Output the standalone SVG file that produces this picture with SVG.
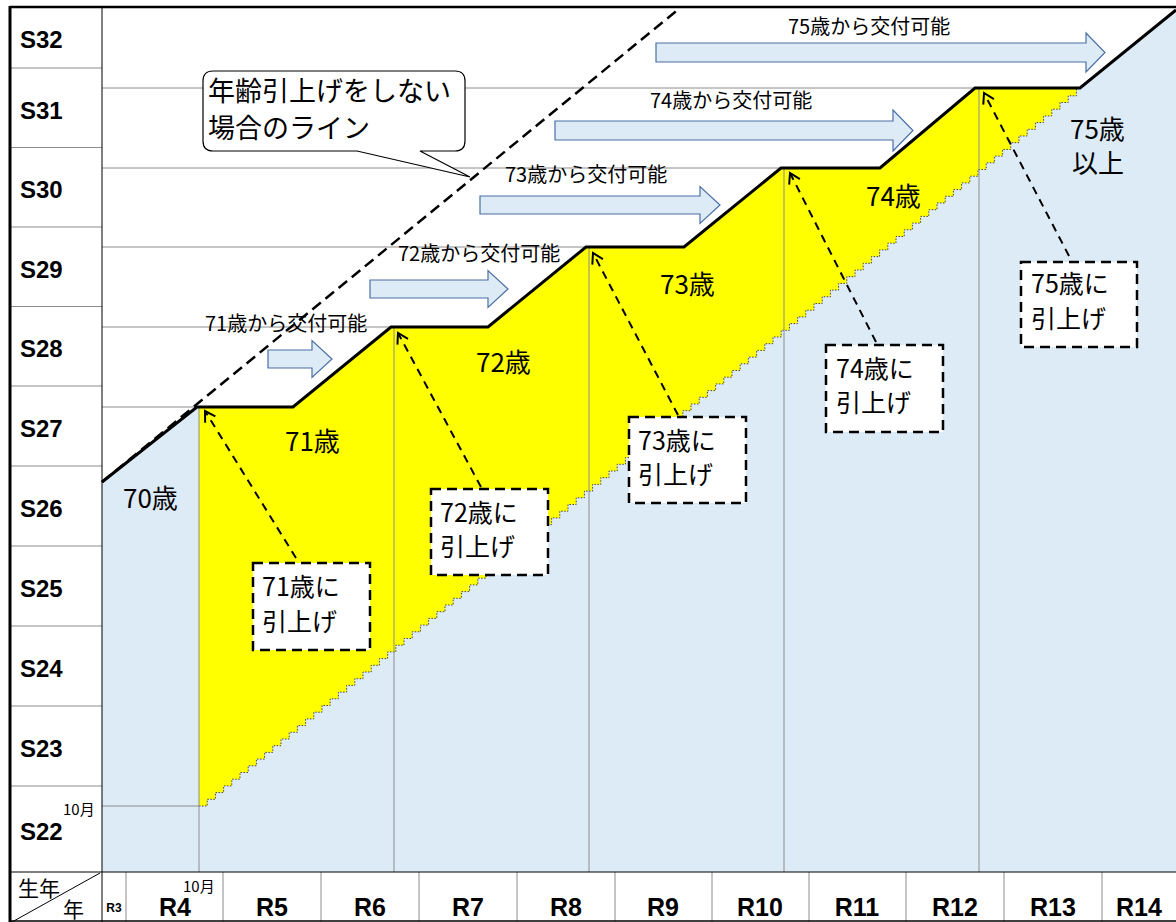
<svg xmlns="http://www.w3.org/2000/svg" width="1176" height="922" viewBox="0 0 1176 922">
<style>
.jp{font-family:"Noto Sans CJK JP","Liberation Sans",sans-serif;fill:#000}
.lab{font-family:"Liberation Sans",Arial,sans-serif;font-weight:bold;fill:#000}
.s{font-size:24px}
.r{font-size:25px}
.grid{stroke:#8c8c8c;stroke-width:1;fill:none}
.barrow{fill:#DDEBF7;stroke:#4A6FA5;stroke-width:1.2}
.dbox{fill:#fff;stroke:#000;stroke-width:2.5;stroke-dasharray:10 6}
.darrow{stroke:#000;stroke-width:2;stroke-dasharray:8 6;fill:none;marker-end:url(#oh)}
.age{font-size:26px}
.box{font-size:25px}
.avail{font-size:20px}
</style>
<defs>
<marker id="oh" markerUnits="userSpaceOnUse" markerWidth="16" markerHeight="16" refX="12" refY="7" orient="auto">
<path d="M2,1 L12,7 L2,13" fill="none" stroke="#000" stroke-width="2" stroke-dasharray="none"/>
</marker>
</defs>
<rect width="1176" height="922" fill="#fff"/>
<g id="chart-bg">
<rect x="102" y="7" width="1074" height="865" fill="#DDEBF7"/>
<path d="M102,7 L102,482 L197,407 L293,407 L391,327 L488,327 L586,247 L684,247 L781,168 L880,168 L975,88 L1080,88 L1176,10 L1176,7 Z" fill="#fff"/>
<path id="yellow" fill="#FFFF00" d="M199,806
h8.2v-6.7h8.2v-6.7h8.2v-6.7h8.2v-6.7h8.2v-6.7h8.2v-6.7h8.2v-6.7h8.2v-6.7h8.2v-6.7h8.2v-6.7
h8.2v-6.7h8.2v-6.7h8.2v-6.7h8.2v-6.7h8.2v-6.7h8.2v-6.7h8.2v-6.7h8.2v-6.7h8.2v-6.7h8.2v-6.7
h8.2v-6.7h8.2v-6.7h8.2v-6.7h8.2v-6.7h8.2v-6.7h8.2v-6.7h8.2v-6.7h8.2v-6.7h8.2v-6.7h8.2v-6.7
h8.2v-6.7h8.2v-6.7h8.2v-6.7h8.2v-6.7h8.2v-6.7h8.2v-6.7h8.2v-6.7h8.2v-6.7h8.2v-6.7h8.2v-6.7
h8.2v-6.7h8.2v-6.7h8.2v-6.7h8.2v-6.7h8.2v-6.7h8.2v-6.7h8.2v-6.7h8.2v-6.7h8.2v-6.7h8.2v-6.7
h8.2v-6.7h8.2v-6.7h8.2v-6.7h8.2v-6.7h8.2v-6.7h8.2v-6.7h8.2v-6.7h8.2v-6.7h8.2v-6.7h8.2v-6.7
h8.2v-6.7h8.2v-6.7h8.2v-6.7h8.2v-6.7h8.2v-6.7h8.2v-6.7h8.2v-6.7h8.2v-6.7h8.2v-6.7h8.2v-6.7
h8.2v-6.7h8.2v-6.7h8.2v-6.7h8.2v-6.7h8.2v-6.7h8.2v-6.7h8.2v-6.7h8.2v-6.7h8.2v-6.7h8.2v-6.7
h8.2v-6.7h8.2v-6.7h8.2v-6.7h8.2v-6.7h8.2v-6.7h8.2v-6.7h8.2v-6.7h8.2v-6.7h8.2v-6.7h8.2v-6.7
h8.2v-6.7h8.2v-6.7h8.2v-6.7h8.2v-6.7h8.2v-6.7h8.2v-6.7h8.2v-6.7h8.2v-6.7h8.2v-6.7h8.2v-6.7
h8.2v-6.7h8.2v-6.7h8.2v-6.7h8.2v-6.7h8.2v-6.7h8.2v-6.7h8.2v-6.7
L1080,88 L975,88 L880,168 L781,168 L684,247 L586,247 L488,327 L391,327 L293,407 L199,407 Z"/>
<path fill="none" stroke="#444" stroke-width="1" stroke-dasharray="1.5 1.5" d="M199,806
h8.2v-6.7h8.2v-6.7h8.2v-6.7h8.2v-6.7h8.2v-6.7h8.2v-6.7h8.2v-6.7h8.2v-6.7h8.2v-6.7h8.2v-6.7
h8.2v-6.7h8.2v-6.7h8.2v-6.7h8.2v-6.7h8.2v-6.7h8.2v-6.7h8.2v-6.7h8.2v-6.7h8.2v-6.7h8.2v-6.7
h8.2v-6.7h8.2v-6.7h8.2v-6.7h8.2v-6.7h8.2v-6.7h8.2v-6.7h8.2v-6.7h8.2v-6.7h8.2v-6.7h8.2v-6.7
h8.2v-6.7h8.2v-6.7h8.2v-6.7h8.2v-6.7h8.2v-6.7h8.2v-6.7h8.2v-6.7h8.2v-6.7h8.2v-6.7h8.2v-6.7
h8.2v-6.7h8.2v-6.7h8.2v-6.7h8.2v-6.7h8.2v-6.7h8.2v-6.7h8.2v-6.7h8.2v-6.7h8.2v-6.7h8.2v-6.7
h8.2v-6.7h8.2v-6.7h8.2v-6.7h8.2v-6.7h8.2v-6.7h8.2v-6.7h8.2v-6.7h8.2v-6.7h8.2v-6.7h8.2v-6.7
h8.2v-6.7h8.2v-6.7h8.2v-6.7h8.2v-6.7h8.2v-6.7h8.2v-6.7h8.2v-6.7h8.2v-6.7h8.2v-6.7h8.2v-6.7
h8.2v-6.7h8.2v-6.7h8.2v-6.7h8.2v-6.7h8.2v-6.7h8.2v-6.7h8.2v-6.7h8.2v-6.7h8.2v-6.7h8.2v-6.7
h8.2v-6.7h8.2v-6.7h8.2v-6.7h8.2v-6.7h8.2v-6.7h8.2v-6.7h8.2v-6.7h8.2v-6.7h8.2v-6.7h8.2v-6.7
h8.2v-6.7h8.2v-6.7h8.2v-6.7h8.2v-6.7h8.2v-6.7h8.2v-6.7h8.2v-6.7h8.2v-6.7h8.2v-6.7h8.2v-6.7
h8.2v-6.7h8.2v-6.7h8.2v-6.7h8.2v-6.7h8.2v-6.7h8.2v-6.7h8.2v-6.7 L1080,88"/>
</g>
<g id="gridlines" class="grid">
<line x1="102" y1="88" x2="975" y2="88"/>
<line x1="102" y1="168" x2="781" y2="168"/>
<line x1="102" y1="247" x2="586" y2="247"/>
<line x1="102" y1="327" x2="391" y2="327"/>
<line x1="102" y1="407" x2="197" y2="407"/>
<line x1="102" y1="806" x2="199" y2="806"/>
<line x1="199" y1="407" x2="199" y2="872"/>
<line x1="394" y1="327" x2="394" y2="872"/>
<line x1="589" y1="247" x2="589" y2="872"/>
<line x1="784" y1="168" x2="784" y2="872"/>
<line x1="979" y1="88" x2="979" y2="872"/>
</g>
<g id="no-raise-line">
<line x1="102" y1="482" x2="680" y2="8" stroke="#000" stroke-width="2.5" stroke-dasharray="11 6"/>
</g>
<g id="step-line">
<path d="M102,482 L197,407 L293,407 L391,327 L488,327 L586,247 L684,247 L781,168 L880,168 L975,88 L1080,88 L1176,10" fill="none" stroke="#000" stroke-width="3" stroke-linejoin="miter"/>
</g>
<g id="avail71"><path class="barrow" d="M268,350 L312,350 L312,340.5 L332,359 L312,377.5 L312,368 L268,368 Z"/><text class="jp avail" x="205" y="331">71歳から交付可能</text></g>
<g id="avail72"><path class="barrow" d="M370,280 L488,280 L488,270.5 L508,289 L488,307.5 L488,298 L370,298 Z"/><text class="jp avail" x="398" y="261">72歳から交付可能</text></g>
<g id="avail73"><path class="barrow" d="M480,196 L700,196 L700,186.5 L720,205 L700,223.5 L700,214 L480,214 Z"/><text class="jp avail" x="505" y="182">73歳から交付可能</text></g>
<g id="avail74"><path class="barrow" d="M555,121 L893,121 L893,110 L913,130.5 L893,151 L893,140 L555,140 Z"/><text class="jp avail" x="650" y="108">74歳から交付可能</text></g>
<g id="avail75"><path class="barrow" d="M656,43 L1086,43 L1086,33 L1105,52.5 L1086,72 L1086,62 L656,62 Z"/><text class="jp avail" x="788" y="34">75歳から交付可能</text></g>
<g id="callout">
<path d="M213,71 H455 Q465,71 465,81 V141 Q465,151 455,151 H420 L470,177 L357,151 H213 Q203,151 203,141 V81 Q203,71 213,71 Z" fill="#fff" stroke="#000" stroke-width="1.2"/>
<text class="jp" font-size="27" x="208" y="101">年齢引上げをしない</text>
<text class="jp" font-size="27" x="208" y="138">場合のライン</text>
</g>
<g id="connectors">
<line class="darrow" x1="296" y1="558" x2="205" y2="411"/>
<line class="darrow" x1="481" y1="487" x2="398" y2="333"/>
<line class="darrow" x1="678" y1="415" x2="593" y2="253"/>
<line class="darrow" x1="876" y1="342" x2="790" y2="173"/>
<line class="darrow" x1="1069" y1="256" x2="984" y2="93"/>
</g>
<g id="box71"><rect class="dbox" x="253" y="563" width="117" height="87"/><text class="jp box" x="262" y="596">71歳に</text><text class="jp box" x="262" y="631">引上げ</text></g>
<g id="box72"><rect class="dbox" x="431" y="489" width="117" height="86"/><text class="jp box" x="440" y="522">72歳に</text><text class="jp box" x="440" y="556">引上げ</text></g>
<g id="box73"><rect class="dbox" x="629" y="417" width="117" height="86"/><text class="jp box" x="638" y="450">73歳に</text><text class="jp box" x="638" y="484">引上げ</text></g>
<g id="box74"><rect class="dbox" x="826" y="345" width="117" height="87"/><text class="jp box" x="836" y="378">74歳に</text><text class="jp box" x="836" y="412">引上げ</text></g>
<g id="box75"><rect class="dbox" x="1021" y="262" width="116" height="85"/><text class="jp box" x="1031" y="293">75歳に</text><text class="jp box" x="1031" y="328">引上げ</text></g>
<g id="ages">
<text class="jp age" x="123" y="508">70歳</text>
<text class="jp age" x="285" y="451">71歳</text>
<text class="jp age" x="476" y="372">72歳</text>
<text class="jp age" x="660" y="294">73歳</text>
<text class="jp age" x="866" y="206">74歳</text>
<text class="jp age" x="1070" y="139">75歳</text>
<text class="jp age" x="1072" y="173">以上</text>
</g>
<g id="left-axis">
<g stroke="#8c8c8c" stroke-width="1">
<line x1="10" y1="68" x2="102" y2="68"/>
<line x1="10" y1="147.5" x2="102" y2="147.5"/>
<line x1="10" y1="227" x2="102" y2="227"/>
<line x1="10" y1="306.5" x2="102" y2="306.5"/>
<line x1="10" y1="386" x2="102" y2="386"/>
<line x1="10" y1="466" x2="102" y2="466"/>
<line x1="10" y1="546" x2="102" y2="546"/>
<line x1="10" y1="626" x2="102" y2="626"/>
<line x1="10" y1="706" x2="102" y2="706"/>
<line x1="10" y1="786" x2="102" y2="786"/>
</g>
<text class="lab s" x="20" y="48">S32</text>
<text class="lab s" x="20" y="119">S31</text>
<text class="lab s" x="20" y="198">S30</text>
<text class="lab s" x="20" y="278">S29</text>
<text class="lab s" x="20" y="357">S28</text>
<text class="lab s" x="20" y="437">S27</text>
<text class="lab s" x="20" y="517">S26</text>
<text class="lab s" x="20" y="597">S25</text>
<text class="lab s" x="20" y="677">S24</text>
<text class="lab s" x="20" y="757">S23</text>
<text class="lab s" x="20" y="840">S22</text>
<text class="jp" font-size="15" x="63" y="815">10月</text>
</g>
<g id="bottom-axis">
<g stroke="#8c8c8c" stroke-width="1">
<line x1="126" y1="872" x2="126" y2="922"/>
<line x1="223" y1="872" x2="223" y2="922"/>
<line x1="321" y1="872" x2="321" y2="922"/>
<line x1="419" y1="872" x2="419" y2="922"/>
<line x1="517" y1="872" x2="517" y2="922"/>
<line x1="615" y1="872" x2="615" y2="922"/>
<line x1="712" y1="872" x2="712" y2="922"/>
<line x1="809" y1="872" x2="809" y2="922"/>
<line x1="906" y1="872" x2="906" y2="922"/>
<line x1="1004" y1="872" x2="1004" y2="922"/>
<line x1="1102" y1="872" x2="1102" y2="922"/>
</g>
<line x1="12" y1="922" x2="100" y2="873" stroke="#000" stroke-width="1"/>
<text class="jp" font-size="21" x="18" y="896">生年</text>
<text class="jp" font-size="21" x="63" y="917">年</text>
<text class="lab" style="font-size:12px" x="114" y="912" text-anchor="middle">R3</text>
<text class="jp" font-size="15" x="183" y="892">10月</text>
<g class="lab r" text-anchor="middle">
<text x="175" y="916">R4</text>
<text x="272" y="916">R5</text>
<text x="370" y="916">R6</text>
<text x="468" y="916">R7</text>
<text x="566" y="916">R8</text>
<text x="663" y="916">R9</text>
<text x="760" y="916">R10</text>
<text x="857" y="916">R11</text>
<text x="955" y="916">R12</text>
<text x="1053" y="916">R13</text>
<text x="1139" y="916">R14</text>
</g>
</g>
<g id="frame" fill="none" stroke="#000">
<line x1="10" y1="7" x2="1176" y2="7" stroke-width="2.5"/>
<line x1="10" y1="6" x2="10" y2="922" stroke-width="3"/>
<line x1="102" y1="7" x2="102" y2="922" stroke-width="1"/>
<line x1="10" y1="872" x2="1176" y2="872" stroke-width="1.2"/>
<line x1="10" y1="921" x2="1176" y2="921" stroke-width="1.5"/>
</g>
</svg>
